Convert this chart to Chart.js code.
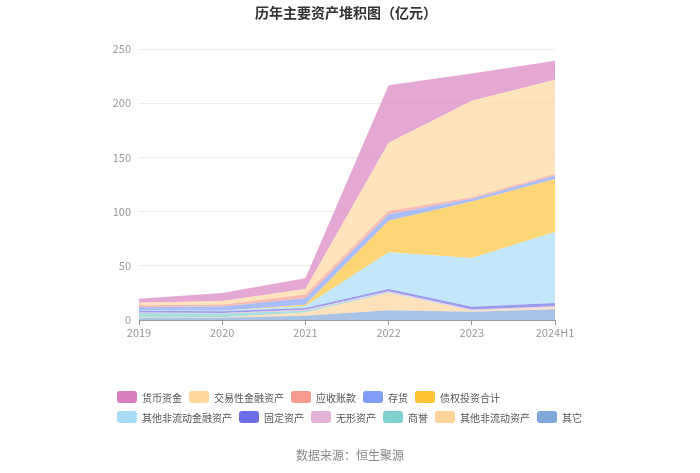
<!DOCTYPE html>
<html><head><meta charset="utf-8">
<script src="https://cdn.jsdelivr.net/npm/chart.js@4/dist/chart.umd.min.js"></script>
<style>
html,body{margin:0;padding:0;background:#fff;}
#wrap{position:relative;width:700px;height:473px;font-family:"Noto Sans CJK SC","Noto Sans",sans-serif;}
#title{position:absolute;left:0;top:2px;width:692px;text-align:center;font-size:14px;font-weight:bold;color:#333;line-height:20px;}
#src{position:absolute;left:0;top:447px;width:700px;text-align:center;font-size:12px;color:#888;line-height:16px;}
#legend{position:absolute;left:117px;top:387px;}
.row{display:flex;align-items:center;height:20px;}
.item{display:flex;align-items:center;margin-right:7px;font-size:10px;color:#555;white-space:nowrap;}
.sw{width:20px;height:12px;border-radius:3px;margin-right:5px;}
</style></head>
<body>
<div id="wrap">
<canvas id="c" width="700" height="473"></canvas>
<div id="title">历年主要资产堆积图（亿元）</div>
<div id="legend"></div>
<div id="src">数据来源：恒生聚源</div>
</div>
<script>
const years = ['2019','2020','2021','2022','2023','2024H1'];
// series values (亿元), in legend order
const cash        = [3.5, 7.5, 10, 53, 25, 17.5];   // 货币资金
const tradingFin  = [2.5, 3.5, 5, 63, 89, 87];      // 交易性金融资产
const receivables = [1.5, 1.5, 3.5, 3, 1.5, 1.5];   // 应收账款
const inventory   = [3, 4, 6, 6, 2.5, 3];           // 存货
const debtInvest  = [0, 0, 1, 29, 52, 49];          // 债权投资合计
const otherNcFin  = [0.5, 0.5, 2, 34, 45, 65.5];    // 其他非流动金融资产
const fixedAssets = [1.5, 1.5, 1.5, 2, 2.5, 3];     // 固定资产
const intangible  = [0.5, 0.5, 1, 1, 1, 0.8];       // 无形资产
const goodwill    = [4, 3.5, 1.5, 0.5, 0.3, 0.3];   // 商誉
const otherNc     = [0.5, 0.5, 3, 16, 1, 1.5];      // 其他非流动资产
const others      = [2, 2, 4, 9, 7.5, 10];          // 其它
const yTickStep = 50, yMax = 250;

const series = [
  ['货币资金', cash, '#d87dbf'],
  ['交易性金融资产', tradingFin, '#ffd699'],
  ['应收账款', receivables, '#f89a8c'],
  ['存货', inventory, '#7f9ef7'],
  ['债权投资合计', debtInvest, '#ffc233'],
  ['其他非流动金融资产', otherNcFin, '#a6dcf7'],
  ['固定资产', fixedAssets, '#6d6de8'],
  ['无形资产', intangible, '#e6b1d7'],
  ['商誉', goodwill, '#7fd1d1'],
  ['其他非流动资产', otherNc, '#ffd49a'],
  ['其它', others, '#7fa6d9']
];

function alpha(hex, a){
  const n = parseInt(hex.slice(1),16);
  return `rgba(${(n>>16)&255},${(n>>8)&255},${n&255},${a})`;
}

const stackOrder = series.slice().reverse();
const datasets = stackOrder.map((s,i)=>({
  label: s[0], data: s[1],
  backgroundColor: alpha(s[2], 0.68),
  borderColor: alpha(s[2], 0.68),
  borderWidth: 0, pointRadius: 0, tension: 0,
  fill: i===0 ? 'origin' : '-1'
}));

// HTML legend (legend order)
const rows = [series.slice(0,5), series.slice(5)];
const lg = document.getElementById('legend');
rows.forEach(r=>{
  const row = document.createElement('div'); row.className='row';
  r.forEach(s=>{
    const it = document.createElement('div'); it.className='item';
    const sw = document.createElement('div'); sw.className='sw'; sw.style.background=s[2];
    const tx = document.createElement('span'); tx.textContent = s[0];
    it.appendChild(sw); it.appendChild(tx); row.appendChild(it);
  });
  lg.appendChild(row);
});

new Chart(document.getElementById('c'), {
  type: 'line',
  data: { labels: years, datasets },
  options: {
    responsive: false, animation: false, devicePixelRatio: 1,
    layout: { padding: { left: 100, right: 145, top: 49, bottom: 133 } },
    plugins: { legend: { display: false }, title: { display: false }, tooltip: { enabled: false } },
    elements: { line: { borderWidth: 0 } },
    scales: {
      x: {
        offset: false,
        grid: { drawOnChartArea: false, drawTicks: true, tickLength: 5, color: '#999' },
        border: { color: '#999' },
        ticks: { color: '#999', font: { size: 11, family: '"Noto Sans CJK SC","Noto Sans",sans-serif' }, padding: 1, maxRotation: 0, autoSkip: false },
        afterFit: (s)=>{ s.height = 20; }
      },
      y: {
        stacked: true, min: 0, max: yMax,
        ticks: { stepSize: yTickStep, color: '#999', padding: 8, font: { size: 11, family: '"Noto Sans CJK SC","Noto Sans",sans-serif' } },
        grid: { color: '#eeeeee', drawTicks: false },
        border: { display: false },
        afterFit: (s)=>{ s.width = 39; }
      }
    }
  }
});
</script>
</body></html>
